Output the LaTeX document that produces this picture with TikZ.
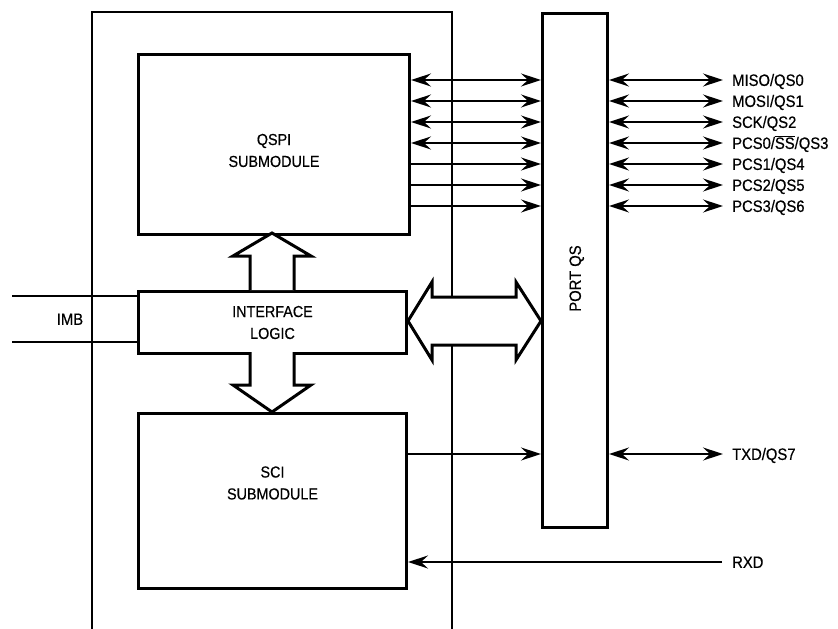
\documentclass[tikz,border=0pt]{standalone}
\usepackage{fontspec}
\setmainfont{Liberation Sans}[FakeStretch=0.9,FakeBold=0.5]
\usetikzlibrary{arrows.meta,calc}
\begin{document}
\begin{tikzpicture}[x=1bp,y=-1bp,
  box/.style={draw,line width=3bp,inner sep=0pt,anchor=north west},
  inlbl/.style={align=center,font=\fontsize{16}{22}\selectfont,inner sep=0pt},
  sig/.style={line width=1.8bp},
  bi/.style={sig,{Stealth[length=20bp,width=13bp,inset=7bp]}-{Stealth[length=20bp,width=13bp,inset=7bp]}},
  uni/.style={sig,-{Stealth[length=20bp,width=13bp,inset=7bp]}},
  lbl/.style={font=\fontsize{16.5}{18}\selectfont,inner sep=0pt,anchor=west,text height=11.8bp,text depth=0pt},
  fat/.style={line width=3bp,fill=white,line join=miter},
  frame/.style={line width=2.6bp}
]
\useasboundingbox (0,0) rectangle (838,629);

% outer module frame (open at bottom)
\coordinate (oBL) at (92,629);
\coordinate (oTL) at (92,12);
\coordinate (oTR) at (452,12);
\coordinate (oBR) at (452,629);
\draw[frame] (oBL) -- (oTL) -- (oTR) -- (oBR);

% boxes
\node[box,minimum width=271bp,minimum height=180bp] (qspi) at (137,53) {};
\node[inlbl] (qspilbl) at ([yshift=-6bp]qspi.center) {QSPI\\SUBMODULE};
\node[box,minimum width=268bp,minimum height=62bp] (iface) at (137,290) {};
\node[inlbl] (ifacelbl) at (iface.center) {INTERFACE\\LOGIC};
\node[box,minimum width=268bp,minimum height=175bp] (sci) at (137,412) {};
\node[inlbl] (scilbl) at ([yshift=18bp]sci.center) {SCI\\SUBMODULE};
\node[box,minimum width=65bp,minimum height=514bp] (port) at (541,12) {};
\node[lbl,anchor=center,rotate=90] (portlbl) at ([yshift=-8bp]port.center) {PORT QS};

% IMB bus
\coordinate (imbA) at (12,296);
\coordinate (imbB) at (12,342);
\draw[line width=2.4bp] (imbA) -- (iface.west |- imbA);
\draw[line width=2.4bp] (imbB) -- (iface.west |- imbB);
\node[lbl,anchor=center] (imb) at (70,319) {IMB};

% hollow block arrows
\draw[fat] (250,290) -- (250,256) -- (233,256) -- (272,233) -- (311,256) -- (294,256) -- (294,290);
\draw[fat] (250,352) -- (250,385) -- (233,385) -- (272,412) -- (311,385) -- (294,385) -- (294,352);
\draw[fat] (iface.east |- 0,321) -- (432,282) -- (432,297) -- (516,297) -- (516,282) -- (port.west |- 0,321)
  -- (516,360) -- (516,345) -- (432,345) -- (432,360) -- cycle;

% QSPI <-> PORT QS lines
\foreach \y/\st in {80/bi,101/bi,122/bi,143/bi,164/uni,185/uni,206/uni}{
  \draw[\st] (qspi.east |- 0,\y) -- (port.west |- 0,\y);
}

% external pins
\foreach \y/\n/\t in {80/miso/{MISO/QS0},101/mosi/{MOSI/QS1},122/sck/{SCK/QS2},
  143/pcsa/{PCS0/\(\overline{\hbox{SS}}\)/QS3},164/pcsb/{PCS1/QS4},185/pcsc/{PCS2/QS5},
  206/pcsd/{PCS3/QS6},454/txd/{TXD/QS7}}{
  \node[lbl] (\n) at (732,\y) {\t};
  \draw[bi] (port.east |- 0,\y) -- ([xshift=-9bp]\n.west);
}

% SCI lines
\draw[uni] (sci.east |- 0,454) -- (port.west |- 0,454);
\node[lbl] (rxd) at (732,562) {RXD};
\draw[uni] ([xshift=-10bp]rxd.west) -- (sci.east |- rxd.west);
\end{tikzpicture}
\end{document}
